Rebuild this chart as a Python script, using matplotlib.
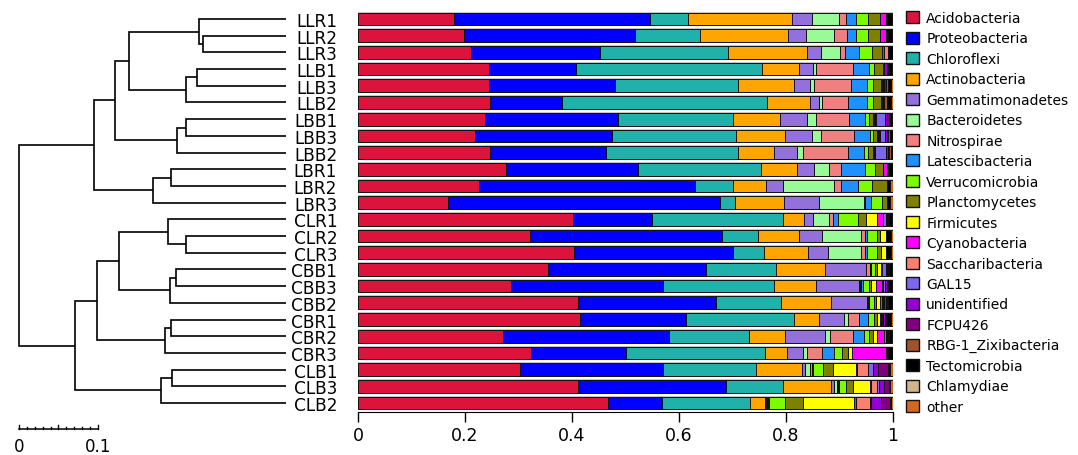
import matplotlib.pyplot as plt
import matplotlib.patches as mpatches
import numpy as np

samples = ['LLR1', 'LLR2', 'LLR3', 'LLB1', 'LLB3', 'LLB2', 'LBB1', 'LBB3', 'LBB2',
           'LBR1', 'LBR2', 'LBR3', 'CLR1', 'CLR2', 'CLR3', 'CBB1', 'CBB3', 'CBB2',
           'CBR1', 'CBR2', 'CBR3', 'CLB1', 'CLB3', 'CLB2']

phyla = ['Acidobacteria', 'Proteobacteria', 'Chloroflexi', 'Actinobacteria',
         'Gemmatimonadetes', 'Bacteroidetes', 'Nitrospirae', 'Latescibacteria',
         'Verrucomicrobia', 'Planctomycetes', 'Firmicutes', 'Cyanobacteria',
         'Saccharibacteria', 'GAL15', 'unidentified', 'FCPU426',
         'RBG-1_Zixibacteria', 'Tectomicrobia', 'Chlamydiae', 'other']

# relative abundance per phylum, samples in the order above
acidobacteria = [.179, .199, .212, .244, .244, .247, .237, .218, .246, .276, .226, .168,
                 .402, .321, .403, .356, .286, .412, .415, .271, .324, .303, .412, .468]
proteobacteria = [.367, .318, .240, .164, .236, .134, .249, .257, .217, .248, .403, .508,
                  .148, .360, .298, .294, .284, .258, .198, .310, .177, .267, .276, .100]
chloroflexi = [.070, .122, .240, .347, .230, .384, .215, .232, .247, .229, .072, .028,
               .244, .067, .058, .131, .207, .121, .202, .150, .259, .173, .107, .165]
actinobacteria = [.195, .165, .147, .070, .105, .079, .088, .092, .067, .067, .061, .093,
                  .040, .077, .083, .091, .079, .094, .046, .067, .041, .086, .089, .028]
gemmatimonadetes = [.038, .033, .027, .025, .029, .018, .051, .050, .044, .032, .032, .064,
                    .016, .042, .037, .077, .080, .066, .048, .075, .030, .006, .006, .002]
bacteroidetes = [.050, .053, .035, .007, .008, .006, .016, .016, .010, .029, .096, .085,
                 .031, .073, .062, .001, .003, .001, .007, .009, .008, .010, .005, .002]
nitrospirae = [.014, .024, .010, .069, .070, .048, .062, .063, .084, .021, .012, .002,
               .007, .008, .006, .007, .002, .002, .020, .043, .029, .004, .002, .002]
latescibacteria = [.017, .017, .026, .029, .030, .036, .030, .029, .030, .046, .033, .010,
                   .009, .004, .005, .001, .002, .002, .017, .020, .021, .002, .002, .002]
verrucomicrobia = [.024, .023, .023, .009, .011, .011, .007, .006, .008, .019, .025, .022,
                   .037, .019, .019, .009, .012, .008, .012, .011, .015, .018, .014, .029]
planctomycetes = [.021, .021, .019, .017, .015, .015, .008, .008, .009, .015, .028, .008,
                  .016, .004, .006, .003, .004, .004, .006, .007, .011, .018, .013, .033]
firmicutes = [.000, .000, .000, .001, .001, .001, .002, .001, .001, .000, .000, .000,
              .021, .011, .009, .008, .009, .008, .004, .007, .008, .044, .031, .096]
cyanobacteria = [.012, .011, .004, .000, .000, .000, .001, .001, .001, .006, .000, .000,
                 .010, .000, .000, .001, .012, .004, .003, .013, .064, .001, .001, .004]
saccharibacteria = [.001, .003, .008, .001, .002, .002, .003, .002, .002, .001, .000, .000,
                    .001, .000, .000, .001, .001, .001, .001, .001, .001, .022, .012, .026]
gal15 = [.000, .000, .000, .001, .001, .001, .016, .010, .021, .000, .000, .000,
         .004, .000, .000, .006, .004, .002, .002, .002, .001, .009, .004, .001]
unidentified = [.001, .001, .000, .004, .002, .001, .004, .003, .004, .000, .000, .000,
                .003, .000, .000, .002, .004, .004, .004, .003, .002, .009, .010, .020]
fcpu426 = [.000, .000, .000, .002, .002, .001, .003, .003, .002, .000, .000, .000,
           .002, .000, .000, .002, .002, .002, .002, .002, .001, .019, .008, .016]
rbg1 = [.000, .000, .000, .002, .004, .005, .002, .004, .003, .000, .001, .001,
        .001, .001, .001, .002, .002, .001, .002, .001, .000, .002, .002, .001]
tectomicrobia = [.010, .009, .009, .006, .007, .007, .004, .003, .004, .011, .005, .006,
                 .007, .009, .010, .006, .005, .008, .008, .006, .008, .002, .001, .001]
chlamydiae = [0.0] * 24
other = [.001, .001, .000, .002, .003, .004, .002, .002, .000, .000, .006, .005,
         .001, .004, .003, .002, .002, .002, .003, .002, .000, .005, .005, .004]

# clustering: (left, right, height); leaves are 0..23, merge k gets id 24 + k
merges = [
    (1, 2, 0.1054), (0, 24, 0.1097), (3, 4, 0.1123), (26, 5, 0.1262),
    (25, 27, 0.1991), (6, 7, 0.1270), (29, 8, 0.1380), (28, 30, 0.2161),
    (9, 10, 0.1459), (32, 11, 0.1687), (31, 33, 0.2430),
    (13, 14, 0.1262), (12, 35, 0.1490), (15, 16, 0.1396), (37, 17, 0.1468),
    (36, 38, 0.2110), (18, 19, 0.1456), (40, 20, 0.1528), (39, 41, 0.2396),
    (21, 22, 0.1447), (43, 23, 0.1586), (42, 44, 0.2675), (34, 45, 0.3380),
]

colors = ['#DC143C', '#0000FF', '#20B2AA', '#FFA500', '#9370DB', '#98FB98', '#F08080',
          '#1E90FF', '#7CFC00', '#808000', '#FFFF00', '#FF00FF', '#FA8072', '#7B68EE',
          '#9400D3', '#800080', '#A0522D', '#000000', '#D2B48C', '#D2691E']

abundance = [acidobacteria, proteobacteria, chloroflexi, actinobacteria, gemmatimonadetes,
             bacteroidetes, nitrospirae, latescibacteria, verrucomicrobia, planctomycetes,
             firmicutes, cyanobacteria, saccharibacteria, gal15, unidentified, fcpu426,
             rbg1, tectomicrobia, chlamydiae, other]

W, H = 1078, 456
fig = plt.figure(figsize=(W / 100, H / 100), dpi=100)

ylim = (23.54, -0.6)
ax_bottom = 1 - 413 / H
ax_height = (413 - 10) / H

# stacked bars
ax = fig.add_axes([358 / W, ax_bottom, (893 - 358) / W, ax_height])
y = np.arange(len(samples))
ax.barh(y, 1.008, left=-0.004, height=0.88, color='#c8c8c8', lw=0)
left = np.zeros(len(samples))
for vals, col in zip(abundance, colors):
    vals = np.array(vals)
    ax.barh(y, vals, left=left, height=0.76, color=col, edgecolor='#111111', lw=0.7)
    left += vals

ax.set_ylim(*ylim)
ax.set_xlim(0, 1)
ax.set_yticks(y)
ax.set_yticklabels(samples, fontsize=12.2)
ax.tick_params(axis='y', length=0, pad=15)
ax.set_xticks([0, 0.2, 0.4, 0.6, 0.8, 1])
ax.set_xticklabels(['0', '0.2', '0.4', '0.6', '0.8', '1'], fontsize=12.5)
ax.tick_params(axis='x', length=7, width=1, pad=3)
for s in ['top', 'right', 'left']:
    ax.spines[s].set_visible(False)
ax.spines['bottom'].set_bounds(0, 1)

# dendrogram
dax = fig.add_axes([17 / W, ax_bottom, (286 - 17) / W, ax_height])
nodes = {i: (float(i), 0.0) for i in range(len(samples))}
for k, (a, b, h) in enumerate(merges):
    ya, ha = nodes[a]
    yb, hb = nodes[b]
    dax.plot([ha, h, h, hb], [ya, ya, yb, yb], color='black', lw=1.2,
             solid_capstyle='butt', solid_joinstyle='miter')
    nodes[len(samples) + k] = ((ya + yb) / 2, h)

root_h = merges[-1][2]
dax.set_xlim(root_h + 0.0025, 0)
dax.set_ylim(*ylim)
dax.axis('off')

# scale bar
sb_y = 24.55
dax.plot([root_h, root_h - 0.1], [sb_y, sb_y], color='black', lw=1.1, clip_on=False)
for i in range(11):
    tick_h = 0.22 if i in (0, 5, 10) else 0.12
    xx = root_h - i * 0.01
    dax.plot([xx, xx], [sb_y, sb_y - tick_h], color='black', lw=1.0, clip_on=False)
dax.text(root_h, sb_y + 0.5, '0', ha='center', va='top', fontsize=12, clip_on=False)
dax.text(root_h - 0.1, sb_y + 0.5, '0.1', ha='center', va='top', fontsize=12, clip_on=False)

# legend
patches = [mpatches.Patch(facecolor=c, edgecolor='#111111', lw=1.0, label=p)
           for p, c in zip(phyla, colors)]
fig.legend(handles=patches, loc='upper left', bbox_to_anchor=(906 / W, 1 - 12 / H),
           frameon=False, fontsize=10, handlelength=0.95, handleheight=0.95,
           handletextpad=0.5, labelspacing=0.465, borderpad=0, borderaxespad=0)

fig.savefig('out.png', dpi=100)
